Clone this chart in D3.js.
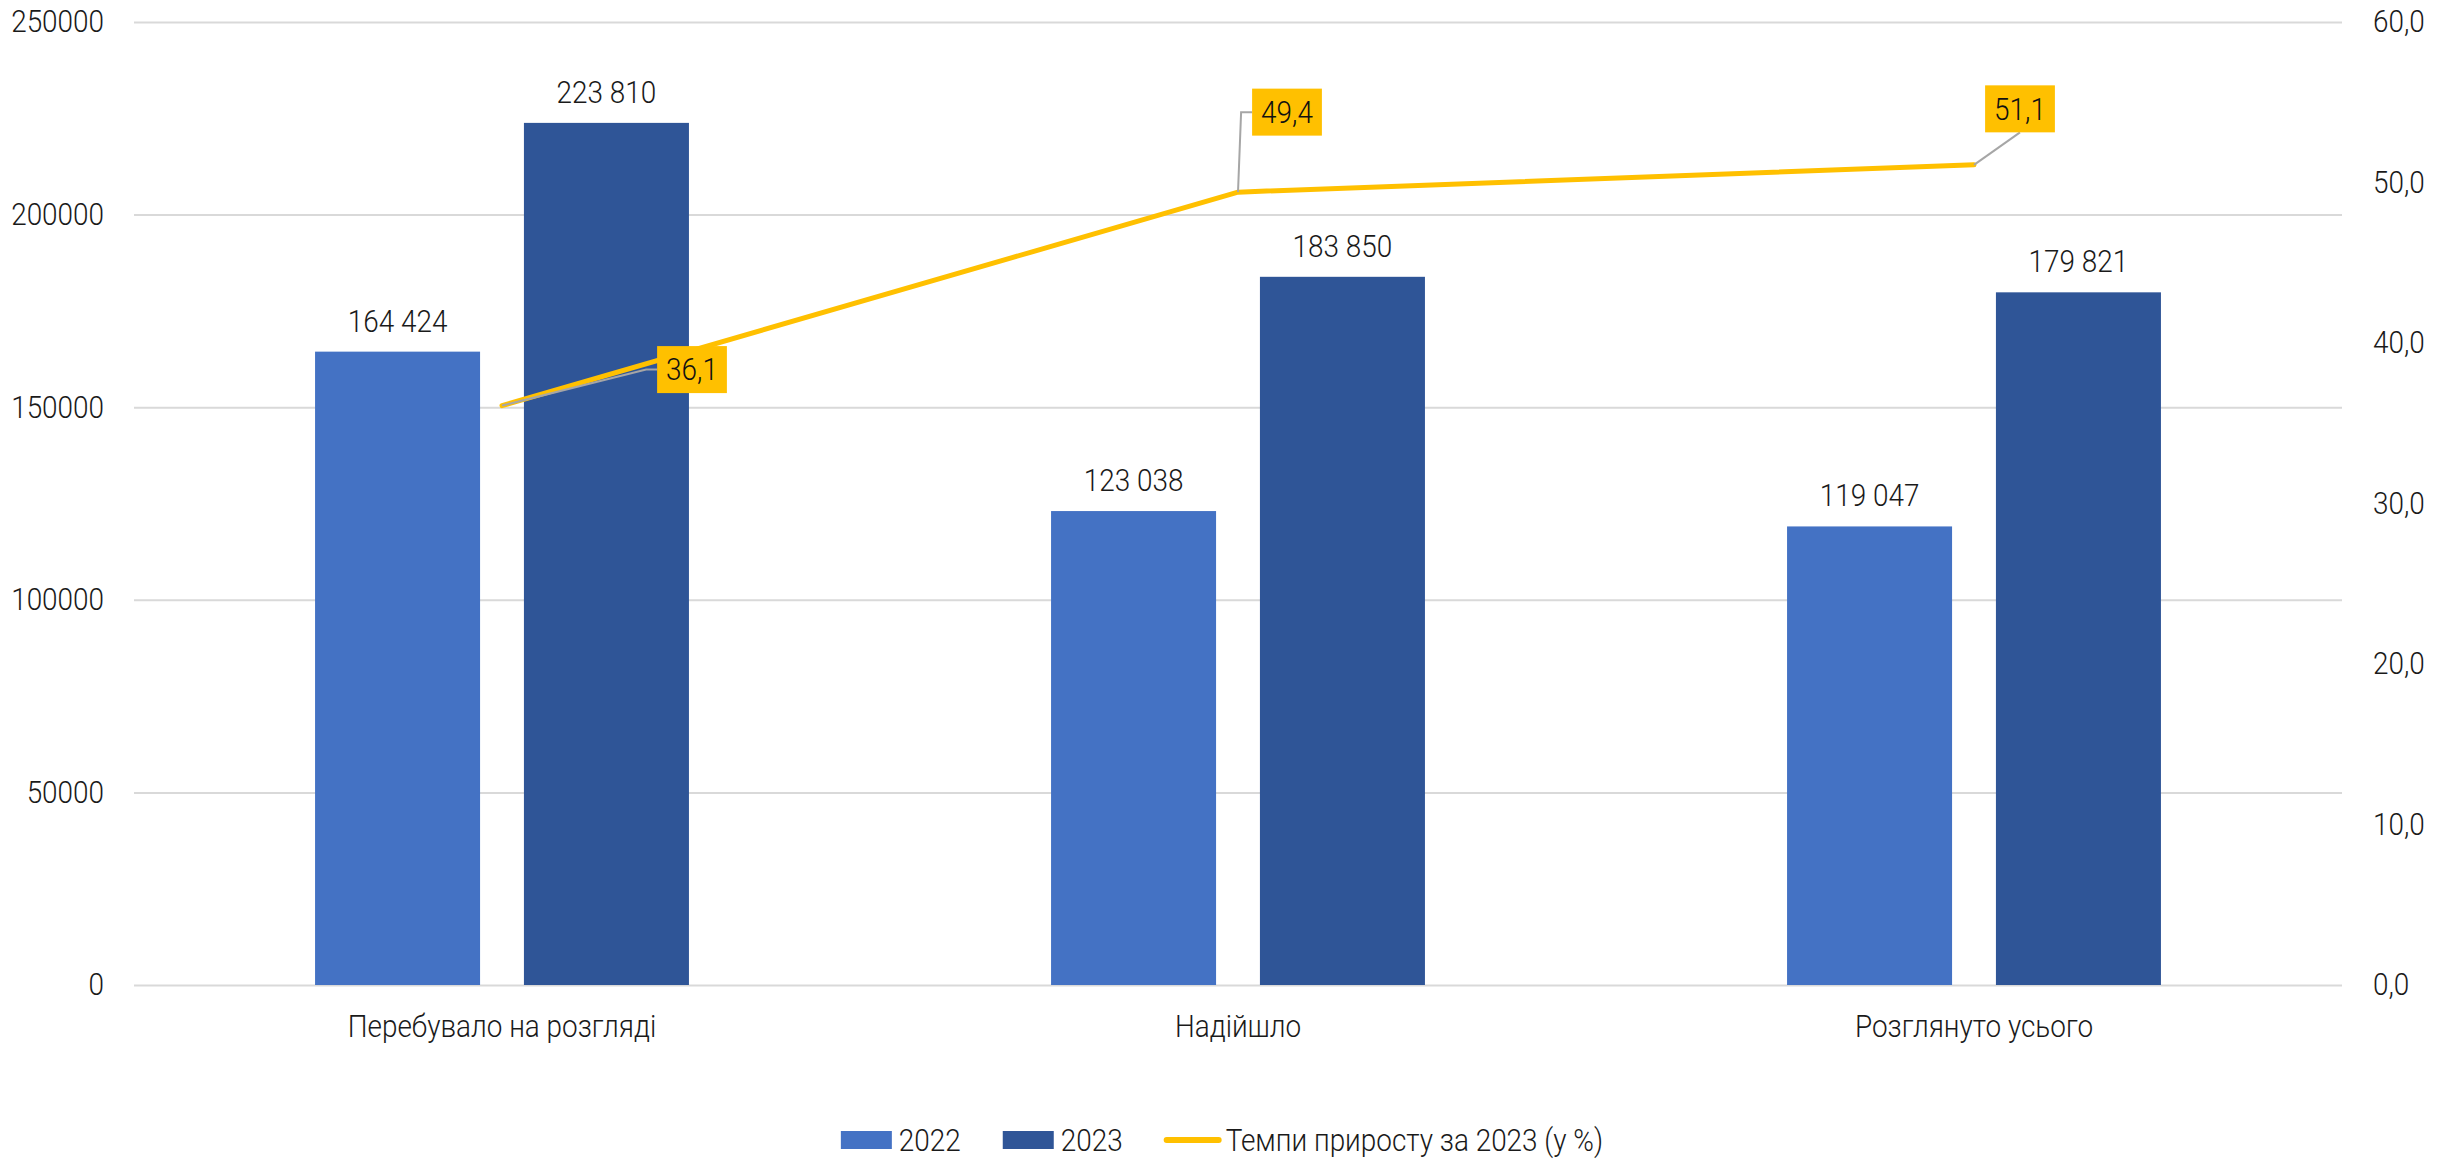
<!DOCTYPE html>
<html>
<head>
<meta charset="utf-8">
<script src="https://cdn.jsdelivr.net/npm/d3@7"></script>
<style>
  body { margin: 0; background: #fff; }
  text { font-family: Roboto, "Noto Sans", sans-serif; font-weight: 300; fill: #1a1a1a; }
</style>
</head>
<body>
<div id="chart"></div>
<script>
// data
const categories = ["Перебувало на розгляді", "Надійшло", "Розглянуто усього"];
const years = ["2022", "2023"];
const values2022 = [164424, 123038, 119047];
const values2023 = [223810, 183850, 179821];
const growth = [36.1, 49.4, 51.1];
const growthName = "Темпи приросту за 2023 (у %)";
const leftTicks = [0, 50000, 100000, 150000, 200000, 250000];
const rightTicks = [0, 10, 20, 30, 40, 50, 60];

// label callouts for the line (offset of box centre from the point)
const calloutOffset = [{dx: 190, dy: -36, anchor: 'left'}, {dx: 49, dy: -80, anchor: 'left'}, {dx: 46, dy: -56, anchor: 'bottom'}];

const width = 2450, height = 1159;
const margin = { top: 22, left: 134, right: 108, bottom: 174 };
const colors = ["#4472C4", "#2F5597"];
const lineColor = "#FFC000";
const squeeze = 0.9; // text looks slightly condensed in the original

const svg = d3.select('#chart').append('svg')
  .attr('width', width)
  .attr('height', height);

const x = d3.scaleBand()
  .domain(categories)
  .range([margin.left, width - margin.right]);

const xInner = d3.scaleBand()
  .domain(years)
  .range([0, x.bandwidth() * 0.508])
  .paddingInner(0.21);

const y = d3.scaleLinear()
  .domain([0, 250000])
  .range([height - margin.bottom, margin.top]);

const y2 = d3.scaleLinear()
  .domain([0, 60])
  .range([height - margin.bottom, margin.top]);

const nf = d3.formatLocale({decimal: ",", thousands: " ", grouping: [3], currency: ["", ""]});
const fmtBar = nf.format(",d");
const fmtPct = nf.format(".1f");

//gridlines
svg.append('g')
  .attr('transform', `translate(${margin.left},0)`)
  .call(d3.axisLeft(y).tickValues(leftTicks).tickSize(-(width - margin.left - margin.right)).tickFormat(''))
  .call(g => g.select('.domain').remove())
  .call(g => g.selectAll('line').attr('stroke', '#d9d9d9').attr('stroke-width', 2));

//left axis
svg.append('g')
  .attr('transform', `translate(${margin.left - 30},0)`)
  .call(d3.axisLeft(y).tickValues(leftTicks).tickSize(0).tickPadding(0).tickFormat(d3.format('d')))
  .call(g => g.select('.domain').remove())
  .call(g => g.selectAll('text').attr('font-size', 31).attr('font-family', null).attr('fill', '#1a1a1a'));

//right axis
svg.append('g')
  .attr('transform', `translate(${width - margin.right + 31},0)`)
  .call(d3.axisRight(y2).tickValues(rightTicks).tickSize(0).tickPadding(0).tickFormat(fmtPct))
  .call(g => g.select('.domain').remove())
  .call(g => g.selectAll('text').attr('font-size', 31).attr('font-family', null).attr('fill', '#1a1a1a'));

//category axis
svg.append('g')
  .attr('transform', `translate(0,${height - margin.bottom})`)
  .call(d3.axisBottom(x).tickSize(0).tickPadding(30))
  .call(g => g.select('.domain').remove())
  .call(g => g.selectAll('text').attr('font-size', 31).attr('font-family', null).attr('fill', '#1a1a1a'));

//bars
const rows = categories.map((c, i) => ({category: c, vals: [values2022[i], values2023[i]]}));
const groupOffset = (x.bandwidth() - xInner.range()[1]) / 2;

const groups = svg.append('g').selectAll('g')
  .data(rows)
  .join('g')
  .attr('transform', d => `translate(${x(d.category) + groupOffset},0)`);

groups.selectAll('rect')
  .data(d => d.vals.map((v, j) => ({year: years[j], value: v})))
  .join('rect')
  .attr('x', d => xInner(d.year))
  .attr('y', d => y(d.value))
  .attr('width', xInner.bandwidth())
  .attr('height', d => y(0) - y(d.value))
  .attr('fill', (d, j) => colors[j]);

groups.selectAll('text.val')
  .data(d => d.vals.map((v, j) => ({year: years[j], value: v})))
  .join('text')
  .attr('class', 'val')
  .attr('x', d => xInner(d.year) + xInner.bandwidth() / 2)
  .attr('y', d => y(d.value) - 20)
  .attr('text-anchor', 'middle')
  .attr('font-size', 31)
  .text(d => fmtBar(d.value));

//line
const cx = c => x(c) + x.bandwidth() / 2;
const pts = categories.map((c, i) => ({x: cx(c), y: y2(growth[i]), v: growth[i], o: calloutOffset[i]}));

svg.append('path')
  .datum(pts)
  .attr('fill', 'none')
  .attr('stroke', lineColor)
  .attr('stroke-width', 5)
  .attr('stroke-linejoin', 'round')
  .attr('stroke-linecap', 'round')
  .attr('d', d3.line().x(d => d.x).y(d => d.y));

//callouts
const callouts = svg.append('g').selectAll('g')
  .data(pts)
  .join('g');

callouts.each(function(d) {
  const g = d3.select(this);
  const bx = d.x + d.o.dx, by = d.y + d.o.dy;
  const t = g.append('text')
    .attr('x', bx)
    .attr('y', by)
    .attr('dy', '0.35em')
    .attr('text-anchor', 'middle')
    .attr('font-size', 31)
    .attr('font-weight', 400)
    .style('fill', '#111')
    .text(fmtPct(d.v));
  const w = t.node().getComputedTextLength() * squeeze + 18, h = 47;
  let path;
  if (d.o.anchor === 'left') {
    path = `M${d.x},${d.y}L${bx - w / 2 - 11},${by}L${bx - w / 2},${by}`;
  } else {
    path = `M${d.x},${d.y}L${bx},${by + h / 2}`;
  }
  g.insert('path', 'text')
    .attr('d', path)
    .attr('fill', 'none')
    .attr('stroke', '#a6a6a6')
    .attr('stroke-width', 2);
  g.insert('rect', 'text')
    .attr('x', bx - w / 2)
    .attr('y', by - h / 2)
    .attr('width', w)
    .attr('height', h)
    .attr('fill', lineColor);
});

//legend
const legendItems = [
  {name: years[0], type: 'rect', color: colors[0]},
  {name: years[1], type: 'rect', color: colors[1]},
  {name: growthName, type: 'line', color: lineColor}
];
const legend = svg.append('g');
let lx = 0;
const ly = 1140;
legendItems.forEach(item => {
  const g = legend.append('g').attr('transform', `translate(${lx},0)`);
  if (item.type === 'rect') {
    g.append('rect').attr('x', 0).attr('y', ly - 9).attr('width', 51).attr('height', 18).attr('fill', item.color);
  } else {
    g.append('line').attr('x1', 2).attr('x2', 54).attr('y1', ly).attr('y2', ly)
      .attr('stroke', item.color).attr('stroke-width', 6).attr('stroke-linecap', 'round');
  }
  const t = g.append('text')
    .attr('x', item.type === 'rect' ? 58 : 61)
    .attr('y', ly)
    .attr('dy', '0.35em')
    .attr('font-size', 31)
    .text(item.name);
  lx += (item.type === 'rect' ? 58 : 61) + t.node().getComputedTextLength() * squeeze + 42;
});
const legendWidth = lx - 42;
legend.attr('transform', `translate(${1222 - legendWidth / 2},0)`);

//condense all text around its anchor
svg.selectAll('text').each(function() {
  const anchor = window.getComputedStyle(this).textAnchor;
  const origin = anchor === 'end' ? 'right center' : anchor === 'middle' ? 'center' : 'left center';
  d3.select(this)
    .style('transform-box', 'fill-box')
    .style('transform-origin', origin)
    .style('transform', `scaleX(${squeeze})`);
});
</script>
</body>
</html>
